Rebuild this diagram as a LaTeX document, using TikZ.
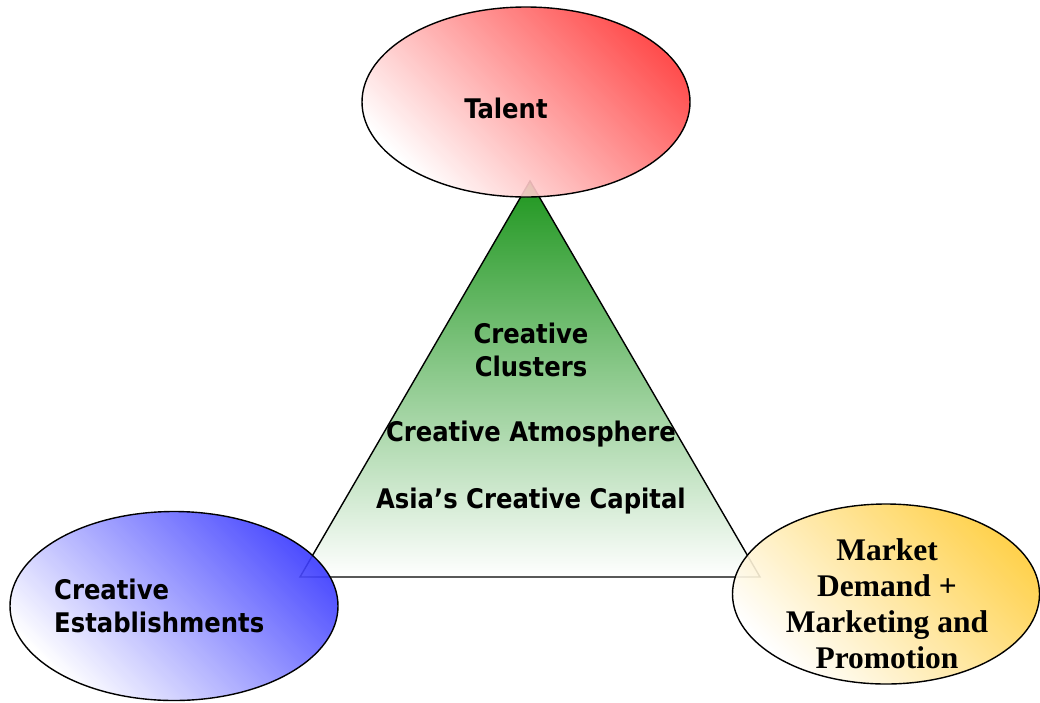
\documentclass[tikz,border=0pt]{standalone}
\usepackage{fontspec}
\usetikzlibrary{shapes.geometric}
\newfontfamily\tahfont{DejaVu Sans Condensed}[BoldFont={* Bold}]
\newfontfamily\timesfont{Liberation Serif}
\definecolor{talentred}{RGB}{255,60,60}
\definecolor{estblue}{RGB}{60,60,255}
\definecolor{mktgold}{RGB}{255,205,60}
\definecolor{trigreen}{RGB}{30,150,30}
\definecolor{trimid}{RGB}{186,220,186}
\tikzset{
  blob/.style={ellipse, draw=black, line width=1.4pt, inner sep=0pt, fill opacity=0.9},
  blobshade/.style={shading=axis, top color=#1, bottom color=white, shading angle=-45},
  sanslabel/.style={font=\tahfont\bfseries\fontsize{27}{33}\selectfont, text=black, inner sep=0pt},
  seriflabel/.style={font=\timesfont\bfseries\fontsize{31.5}{36}\selectfont, text=black, inner sep=0pt, align=center},
}
\begin{document}
\begin{tikzpicture}[x=1pt,y=-1pt]
\useasboundingbox (0,0) rectangle (1040,702);
% triangle
\coordinate (apex) at (530,181);
\coordinate (bl) at (300,577);
\coordinate (br) at (760,577);
\shade[top color=trigreen, middle color=trimid, bottom color=white, draw=black, line width=1.4pt, line join=miter]
  (apex) -- (bl) -- (br) -- cycle;
% ellipses
\node[blob, blobshade=talentred, minimum width=328pt, minimum height=190pt] (talent) at (526,102) {};
\node[blob, blobshade=estblue, minimum width=328pt, minimum height=189pt] (est) at (174,606) {};
\node[blob, blobshade=mktgold, minimum width=307pt, minimum height=180pt] (mkt) at (886,594) {};
% texts
\node[sanslabel] (talenttxt) at (506,108) {Talent};
\node[sanslabel, align=left, anchor=west] (esttxt) at (54,606) {Creative\\Establishments};
\node[seriflabel] (mkttxt) at (887,604) {Market\\Demand +\\Marketing and\\Promotion};
\node[sanslabel, align=center] (clusters) at (531,350) {Creative\\Clusters};
\node[sanslabel] (atmos) at (531,434) {Creative Atmosphere};
\node[sanslabel] (capital) at (531,501) {Asia’s Creative Capital};
\end{tikzpicture}
\end{document}
